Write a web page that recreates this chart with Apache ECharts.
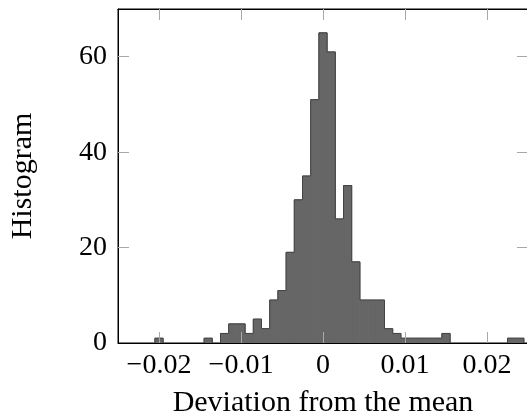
<!DOCTYPE html>
<html>
<head>
<meta charset="utf-8">
<script src="https://cdn.jsdelivr.net/npm/echarts@6/dist/echarts.min.js"></script>
<style>
  html, body { margin: 0; padding: 0; background: #fff; }
  #chart { width: 527px; height: 418px; }
</style>
</head>
<body>
<div id="chart"></div>
<script>
// Bin centers (deviation from the mean), bin width 0.001
const binCenters = [
  -0.020, -0.019, -0.018, -0.017, -0.016, -0.015, -0.014, -0.013, -0.012, -0.011,
  -0.010, -0.009, -0.008, -0.007, -0.006, -0.005, -0.004, -0.003, -0.002, -0.001,
   0.000,  0.001,  0.002,  0.003,  0.004,  0.005,  0.006,  0.007,  0.008,  0.009,
   0.010,  0.011,  0.012,  0.013,  0.014,  0.015,  0.016,  0.017,  0.018,  0.019,
   0.020,  0.021,  0.022,  0.023,  0.024
];
const counts = [
  1, 0, 0, 0, 0, 0, 1, 0, 2, 4,
  4, 2, 5, 3, 9, 11, 19, 30, 35, 51,
  65, 61, 26, 33, 17, 9, 9, 9, 3, 2,
  1, 1, 1, 1, 1, 2, 0, 0, 0, 0,
  0, 0, 0, 1, 1
];
const binWidth = 0.001;
const xTickValues = [-0.02, -0.01, 0, 0.01, 0.02];
const xTickLabels = ['\u22120.02', '\u22120.01', '0', '0.01', '0.02'];
const yTickValues = [0, 20, 40, 60];
const yTickLabels = ['0', '20', '40', '60'];
const xTitle = 'Deviation from the mean';
const yTitle = 'Histogram';

const FONT = 'Liberation Serif';
const FS = 28;
const FS_TITLE = 30;
const tickColor = '#a8a8a8';

const chart = echarts.init(document.getElementById('chart'), null, { renderer: 'canvas' });

const seriesData = binCenters.map((c, i) => [c, counts[i], i]);
// tick marks at y = 0 coincide with the frame; only draw the interior ones
const yTickMarks = yTickValues.filter(v => v > 0);

function renderItem(params, api) {
  const i = api.value(2);
  const c = api.value(0);
  const h = api.value(1);
  if (!h) return null;
  const hl = i > 0 ? counts[i - 1] : 0;
  const hr = i < counts.length - 1 ? counts[i + 1] : 0;
  const p0 = api.coord([c - binWidth / 2, h]);
  const p1 = api.coord([c + binWidth / 2, 0]);
  const children = [{
    type: 'rect',
    shape: { x: p0[0], y: p0[1], width: p1[0] - p0[0], height: p1[1] - p0[1] },
    style: { fill: '#666666', stroke: '#666666', lineWidth: 1 }
  }];
  const st = { stroke: '#444444', lineWidth: 1, fill: null };
  children.push({ type: 'line', shape: { x1: p0[0], y1: p0[1], x2: p1[0], y2: p0[1] }, style: st });
  if (h > hl) {
    const yl = api.coord([0, hl])[1];
    children.push({ type: 'line', shape: { x1: p0[0], y1: p0[1], x2: p0[0], y2: yl }, style: st });
  }
  if (h > hr) {
    const yr = api.coord([0, hr])[1];
    children.push({ type: 'line', shape: { x1: p1[0], y1: p0[1], x2: p1[0], y2: yr }, style: st });
  }
  return { type: 'group', children };
}

const xCommon = {
  type: 'value', min: -0.025, max: 0.025, z: 4,
  axisLine: { show: true, onZero: false, lineStyle: { color: '#000', width: 1 } },
  axisTick: { show: true, inside: true, length: 11, customValues: xTickValues, lineStyle: { color: tickColor, width: 1 } },
  splitLine: { show: false }
};
const yCommon = {
  type: 'value', min: 0, max: 70, z: 4,
  axisLine: { show: true, onZero: false, lineStyle: { color: '#000', width: 1 } },
  axisTick: { show: true, inside: true, length: 11, customValues: yTickMarks, lineStyle: { color: tickColor, width: 1 } },
  splitLine: { show: false }
};

chart.setOption({
  animation: false,
  backgroundColor: '#fff',
  grid: { left: 118, top: 9, width: 410, height: 334, containLabel: false, outerBoundsMode: 'none',
          show: true, borderColor: '#000', borderWidth: 1, backgroundColor: 'transparent' },
  xAxis: [
    Object.assign({}, xCommon, {
      position: 'bottom',
      name: xTitle, nameLocation: 'middle', nameGap: 45,
      nameTextStyle: { fontFamily: FONT, fontSize: FS_TITLE, color: '#000' },
      axisLabel: {
        show: true, customValues: xTickValues, margin: 9,
        fontFamily: FONT, fontSize: FS, color: '#000',
        formatter: v => xTickLabels[xTickValues.findIndex(t => Math.abs(t - v) < 1e-9)]
      }
    }),
    Object.assign({}, xCommon, { position: 'top', axisLabel: { show: false } })
  ],
  yAxis: [
    Object.assign({}, yCommon, {
      position: 'left',
      name: yTitle, nameLocation: 'middle', nameGap: 80, nameRotate: 90,
      nameTextStyle: { fontFamily: FONT, fontSize: FS_TITLE, color: '#000' },
      axisLabel: {
        show: true, customValues: yTickValues, margin: 11,
        fontFamily: FONT, fontSize: FS, color: '#000',
        formatter: v => yTickLabels[yTickValues.indexOf(v)]
      }
    }),
    Object.assign({}, yCommon, { position: 'right', axisLabel: { show: false } })
  ],
  series: [{
    type: 'custom',
    renderItem: renderItem,
    xAxisIndex: 0, yAxisIndex: 0,
    encode: { x: 0, y: 1 },
    data: seriesData,
    z: 2
  }]
});
</script>
</body>
</html>
